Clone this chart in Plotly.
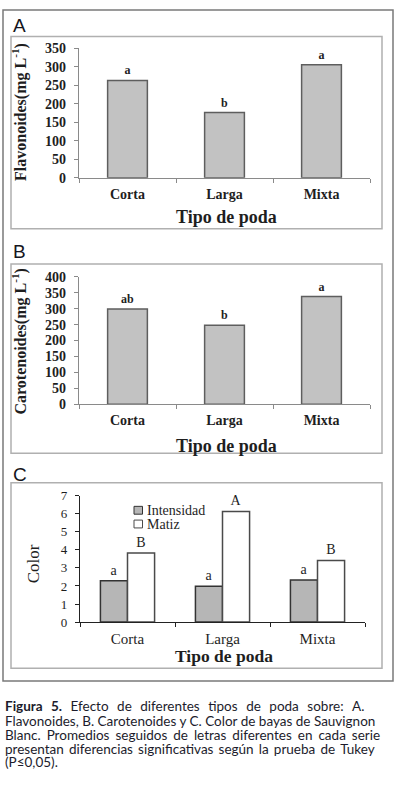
import plotly.graph_objects as go

# ---------------- data ----------------
categories = ["Corta", "Larga", "Mixta"]

flavonoides = [263, 176, 305]
flav_letters = ["a", "b", "a"]
flav_ticks = [0, 50, 100, 150, 200, 250, 300, 350]

carotenoides = [299, 248, 338]
carot_letters = ["ab", "b", "a"]
carot_ticks = [0, 50, 100, 150, 200, 250, 300, 350, 400]

series_names = ["Intensidad", "Matiz"]
intensidad = [2.29, 1.98, 2.33]
intens_letters = ["a", "a", "a"]
matiz = [3.82, 6.12, 3.41]
matiz_letters = ["B", "A", "B"]
color_ticks = [0, 1, 2, 3, 4, 5, 6, 7]

caption_lines = [
    "<b>Figura 5.</b> Efecto de diferentes tipos de poda sobre: A.",
    "Flavonoides, B. Carotenoides y C. Color de bayas de Sauvignon",
    "Blanc. Promedios seguidos de letras diferentes en cada serie",
    "presentan diferencias significativas según la prueba de Tukey",
    "(P≤0,05).",
]

# ---------------- layout helpers ----------------
W, H = 399, 791


def X(px):
    return px / W


def Y(py):
    return 1 - py / H


SERIF = "Liberation Serif"
SANS = "Liberation Sans"
CAP = "Lato"
TXT = "#1e1e1e"

fig = go.Figure()

bold_tick = dict(family=SERIF, size=14, color=TXT, weight="bold")
reg_tick = dict(family=SERIF, size=13, color=TXT)

single_marker = dict(color="#c2c2c2", line=dict(color="#5e5e5e", width=1.5))
int_fill, int_line = "#b6b6b6", "#333333"
mat_fill, mat_line = "#ffffff", "#4a4a4a"

# Panel A
fig.add_trace(go.Bar(
    x=categories, y=flavonoides, xaxis="x", yaxis="y", width=0.41,
    marker=single_marker,
    text=flav_letters, textposition="outside", cliponaxis=False,
    textfont=dict(family=SERIF, size=12, color=TXT, weight="bold"),
    showlegend=False, hoverinfo="skip"))

# Panel B
fig.add_trace(go.Bar(
    x=categories, y=carotenoides, xaxis="x2", yaxis="y2", width=0.41,
    marker=single_marker,
    text=carot_letters, textposition="outside", cliponaxis=False,
    textfont=dict(family=SERIF, size=12, color=TXT, weight="bold"),
    showlegend=False, hoverinfo="skip"))

# Panel C
fig.add_trace(go.Bar(
    name=series_names[0], x=categories, y=intensidad, xaxis="x3", yaxis="y3",
    marker=dict(color=int_fill, line=dict(color=int_line, width=1.5)),
    text=intens_letters, textposition="outside", cliponaxis=False,
    textfont=dict(family=SERIF, size=14, color=TXT),
    showlegend=False, hoverinfo="skip"))
fig.add_trace(go.Bar(
    name=series_names[1], x=categories, y=matiz, xaxis="x3", yaxis="y3",
    marker=dict(color=mat_fill, line=dict(color=mat_line, width=1.5)),
    text=matiz_letters, textposition="outside", cliponaxis=False,
    textfont=dict(family=SERIF, size=14, color=TXT),
    showlegend=False, hoverinfo="skip"))

axis_gray = "#8a8a8a"


def xax(domain, anchor, font, lc, standoff):
    return dict(domain=domain, anchor=anchor, range=[-0.5, 2.5], showline=True,
                linecolor=lc, linewidth=1.3, ticks="outside", tickson="boundaries",
                ticklen=4, tickcolor=lc, tickfont=font, showgrid=False,
                ticklabelstandoff=standoff, fixedrange=True)


def yax(domain, anchor, rng, tv, font, lc):
    return dict(domain=domain, anchor=anchor, range=rng, tickvals=tv,
                showline=True, linecolor=lc, linewidth=1.3, ticks="outside",
                ticklen=4, tickcolor=lc, tickfont=font, showgrid=False,
                zeroline=False, ticklabelstandoff=5, fixedrange=True)


fig.update_layout(
    width=W, height=H, margin=dict(l=0, r=0, t=0, b=0),
    paper_bgcolor="white", plot_bgcolor="white",
    barmode="group", bargap=0.43, bargroupgap=0,
    showlegend=False,
    xaxis=xax([X(79), X(370)], "y", bold_tick, axis_gray, 3),
    yaxis=yax([Y(174), Y(42)], "x", [0, 350], flav_ticks, bold_tick, axis_gray),
    xaxis2=xax([X(79), X(370)], "y2", bold_tick, axis_gray, 3),
    yaxis2=yax([Y(405), Y(275)], "x2", [0, 400], carot_ticks, bold_tick, axis_gray),
    xaxis3=xax([X(80), X(365)], "y3", dict(family=SERIF, size=15, color=TXT), "#222222", 3),
    yaxis3=yax([Y(627), Y(498)], "x3", [0, 7], color_ticks, reg_tick, "#222222"),
)

shapes = [
    dict(type="rect", xref="paper", yref="paper", x0=X(3), x1=X(393), y0=Y(687), y1=Y(3),
         line=dict(color="#7a7a7a", width=1.5)),
]
for top, bot in [(30, 226), (262, 455), (485, 674)]:
    shapes.append(dict(type="rect", xref="paper", yref="paper", x0=X(11), x1=X(382),
                       y0=Y(bot), y1=Y(top), line=dict(color="#b0b0b0", width=1.5)))
# legend swatches for panel C
for (fill, lc), cy in zip([(int_fill, int_line), (mat_fill, mat_line)], [513, 527]):
    shapes.append(dict(type="rect", xref="paper", yref="paper", x0=X(134), x1=X(142.5),
                       y0=Y(cy + 4), y1=Y(cy - 4), fillcolor=fill,
                       line=dict(color=lc, width=1)))
fig.update_layout(shapes=shapes)

ann = []


def text(s, px, py, font, xanchor="center", yanchor="middle", angle=0):
    ann.append(dict(text=s, x=X(px), y=Y(py), xref="paper", yref="paper",
                    xanchor=xanchor, yanchor=yanchor, showarrow=False,
                    textangle=angle, font=font))


# panel letters
for lab, py in [("A", 18.5), ("B", 249), ("C", 477)]:
    text(lab, 19.5, py, dict(family=SANS, size=19, color="#151520"))

# legend labels
for name, cy in zip(series_names, [513, 527]):
    text(name, 144.5, cy, dict(family=SERIF, size=14, color=TXT), xanchor="left")

bold_title = dict(family=SERIF, size=18, color=TXT, weight="bold")
text("Tipo de poda", 226, 214, bold_title)
text("Tipo de poda", 226, 447, bold_title)
text("Tipo de poda", 224, 662, dict(family=SERIF, size=17.5, color=TXT, weight="bold"))
ytitle = dict(family=SERIF, size=16, color=TXT, weight="bold")
text("Flavonoides(mg L<sup>-1</sup>)", 20, 107, ytitle, angle=-90)
text("Carotenoides(mg L<sup>-1</sup>)", 20, 341, ytitle, angle=-90)
text("Color", 33, 568, dict(family=SERIF, size=17, color=TXT), angle=-90)

# caption (justified look: widen word gaps with thin / hair spaces)
THIN, HAIR = "\u2009", "\u200a"
gap_extra = [THIN * 3, "", THIN + HAIR, THIN, ""]
cf = dict(family=CAP, size=13.5, color="#1c1c2c")
for s, extra, py in zip(caption_lines, gap_extra, [713, 727.5, 742, 756, 770]):
    if extra:
        parts = s.split(" ")
        s = (" " + extra).join(parts)
    text(s, 3, py, cf, xanchor="left")

fig.update_layout(annotations=ann)
fig.write_html("out.html", config={"displayModeBar": False},
               post_script="document.body.style.margin='0';document.body.style.overflow='hidden';")
